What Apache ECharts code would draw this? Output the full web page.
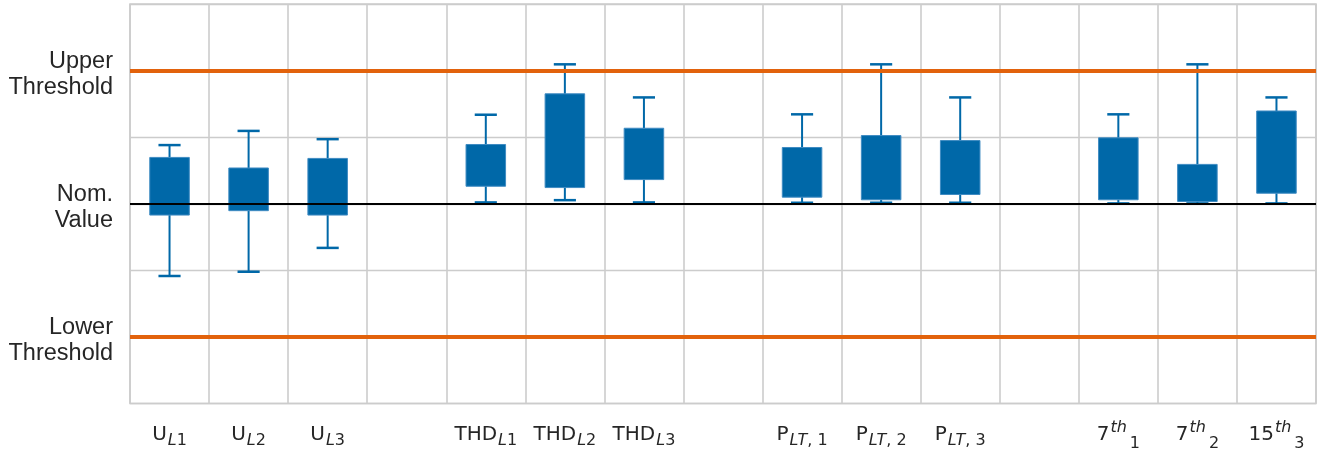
<!DOCTYPE html>
<html><head><meta charset="utf-8">
<script src="https://cdn.jsdelivr.net/npm/echarts@6/dist/echarts.min.js"></script>
<style>html,body{margin:0;padding:0;background:#fff}#c{width:1318px;height:452px}</style>
</head><body><div id="c"></div>
<script>
// ---- data ----
const categories = ['U_L1','U_L2','U_L3','gap1','THD_L1','THD_L2','THD_L3','gap2','P_LT1','P_LT2','P_LT3','gap3','7th_1','7th_2','15th_3'];
const tickLabels = [
  '{m|U}{si|L}{su|1}', '{m|U}{si|L}{su|2}', '{m|U}{si|L}{su|3}', '',
  '{m|THD}{si|L}{su|1}', '{m|THD}{si|L}{su|2}', '{m|THD}{si|L}{su|3}', '',
  '{m|P}{si|LT}{su|, 1}', '{m|P}{si|LT}{su|, 2}', '{m|P}{si|LT}{su|, 3}', '',
  '{m|7}{pi|th}{s2|1}', '{m|7}{pi|th}{s2|2}', '{m|15}{pi|th}{s2|3}'
];
const whiskerLow  = [-1.085, -1.021, -0.663, null, 0.020, 0.054, 0.020, null, 0.015, 0.015, 0.015, null, 0.005, 0.005, 0.005];
const boxLow      = [-0.170, -0.104, -0.170, null, 0.263, 0.243, 0.363, null, 0.099, 0.060, 0.139, null, 0.060, 0.034, 0.158];
const boxHigh     = [ 0.696,  0.537,  0.681, null, 0.890, 1.651, 1.134, null, 0.845, 1.024, 0.949, null, 0.990, 0.591, 1.393];
const whiskerHigh = [ 0.881,  1.094,  0.970, null, 1.337, 2.094, 1.597, null, 1.343, 2.094, 1.597, null, 1.343, 2.094, 1.597];
const upperThreshold = 2;
const nominalValue = 0;
const lowerThreshold = -2;
const yTickLabels = { '2': 'Upper\nThreshold', '0': 'Nom.\nValue', '-2': 'Lower\nThreshold' };

// ---- build ----
const BLUE = '#0068a8';
const ORANGE = '#e2620c';
const boxData = [];
categories.forEach((c, i) => {
  if (boxLow[i] !== null) boxData.push([i, whiskerLow[i], boxLow[i], boxHigh[i], whiskerHigh[i]]);
});

const chart = echarts.init(document.getElementById('c'), null, { renderer: 'canvas' });
const sub = { fontFamily: 'DejaVu Sans', fontSize: 16, color: '#262626', verticalAlign: 'top', lineHeight: 38 };
chart.setOption({
  animation: false,
  backgroundColor: '#ffffff',
  grid: { left: 130, right: 2, top: 4, bottom: 46, show: true, borderColor: '#cccccc', borderWidth: 1.6, backgroundColor: 'transparent' },
  xAxis: {
    type: 'category',
    data: categories,
    boundaryGap: true,
    axisLine: { show: false },
    axisTick: { show: false },
    splitLine: { show: true, interval: 0, lineStyle: { color: '#cccccc', width: 1.6 } },
    axisLabel: {
      interval: 0,
      margin: 15,
      formatter: (v, idx) => tickLabels[idx],
      rich: {
        m: { fontFamily: 'DejaVu Sans', fontSize: 20, color: '#262626', padding: [6, 0, 0, 0], verticalAlign: 'top', lineHeight: 38 },
        si: Object.assign({}, sub, { fontStyle: 'italic', padding: [14.5, 0, 0, 1] }),
        su: Object.assign({}, sub, { padding: [14.5, 0, 0, 0] }),
        pi: Object.assign({}, sub, { fontStyle: 'italic', padding: [1.5, 0, 0, 1] }),
        s2: Object.assign({}, sub, { padding: [17.5, 0, 0, 3] })
      }
    }
  },
  yAxis: {
    type: 'value',
    min: -3, max: 3, interval: 1,
    axisLine: { show: false },
    axisTick: { show: false },
    splitLine: { show: true, lineStyle: { color: '#cccccc', width: 1.4 } },
    axisLabel: {
      margin: 17,
      color: '#262626',
      formatter: v => yTickLabels[String(v)] ? '{t|' + yTickLabels[String(v)].split('\n').join('}\n{t|') + '}' : '',
      rich: {
        t: { fontFamily: 'Liberation Sans', fontSize: 23.5, lineHeight: 26, color: '#262626', align: 'right', padding: [7, 0, 0, 0] }
      }
    }
  },
  series: [
    {
      type: 'line',
      data: categories.map(() => null),
      showSymbol: false,
      z: 1,
      markLine: {
        silent: true,
        symbol: 'none',
        label: { show: false },
        data: [
          { yAxis: upperThreshold, lineStyle: { color: ORANGE, width: 4, type: 'solid' } },
          { yAxis: lowerThreshold, lineStyle: { color: ORANGE, width: 4, type: 'solid' } },
          { yAxis: nominalValue, lineStyle: { color: '#000000', width: 2, type: 'solid' } }
        ]
      }
    },
    {
      type: 'custom',
      z: 3,
      data: boxData,
      encode: { x: 0, y: [1, 2, 3, 4] },
      renderItem: function (params, api) {
        const i = api.value(0);
        const cx = api.coord([i, 0])[0];
        const slot = api.size([1, 0])[0];
        const yMin = api.coord([i, api.value(1)])[1];
        const yQ1 = api.coord([i, api.value(2)])[1];
        const yQ3 = api.coord([i, api.value(3)])[1];
        const yMax = api.coord([i, api.value(4)])[1];
        const bw = slot * 0.5, cw = slot * 0.28;
        const ls = { stroke: BLUE, lineWidth: 2 };
        const cs = { stroke: BLUE, lineWidth: 2.5 };
        return {
          type: 'group',
          children: [
            { type: 'line', shape: { x1: cx, y1: yMax, x2: cx, y2: yQ3 }, style: ls },
            { type: 'line', shape: { x1: cx, y1: yQ1, x2: cx, y2: yMin }, style: ls },
            { type: 'line', shape: { x1: cx - cw / 2, y1: yMax, x2: cx + cw / 2, y2: yMax }, style: cs },
            { type: 'line', shape: { x1: cx - cw / 2, y1: yMin, x2: cx + cw / 2, y2: yMin }, style: cs },
            { type: 'rect', shape: { x: cx - bw / 2, y: yQ3, width: bw, height: yQ1 - yQ3 }, style: { fill: BLUE, stroke: '#3f8bc2', lineWidth: 1 } }
          ]
        };
      }
    }
  ]
});
</script></body></html>
